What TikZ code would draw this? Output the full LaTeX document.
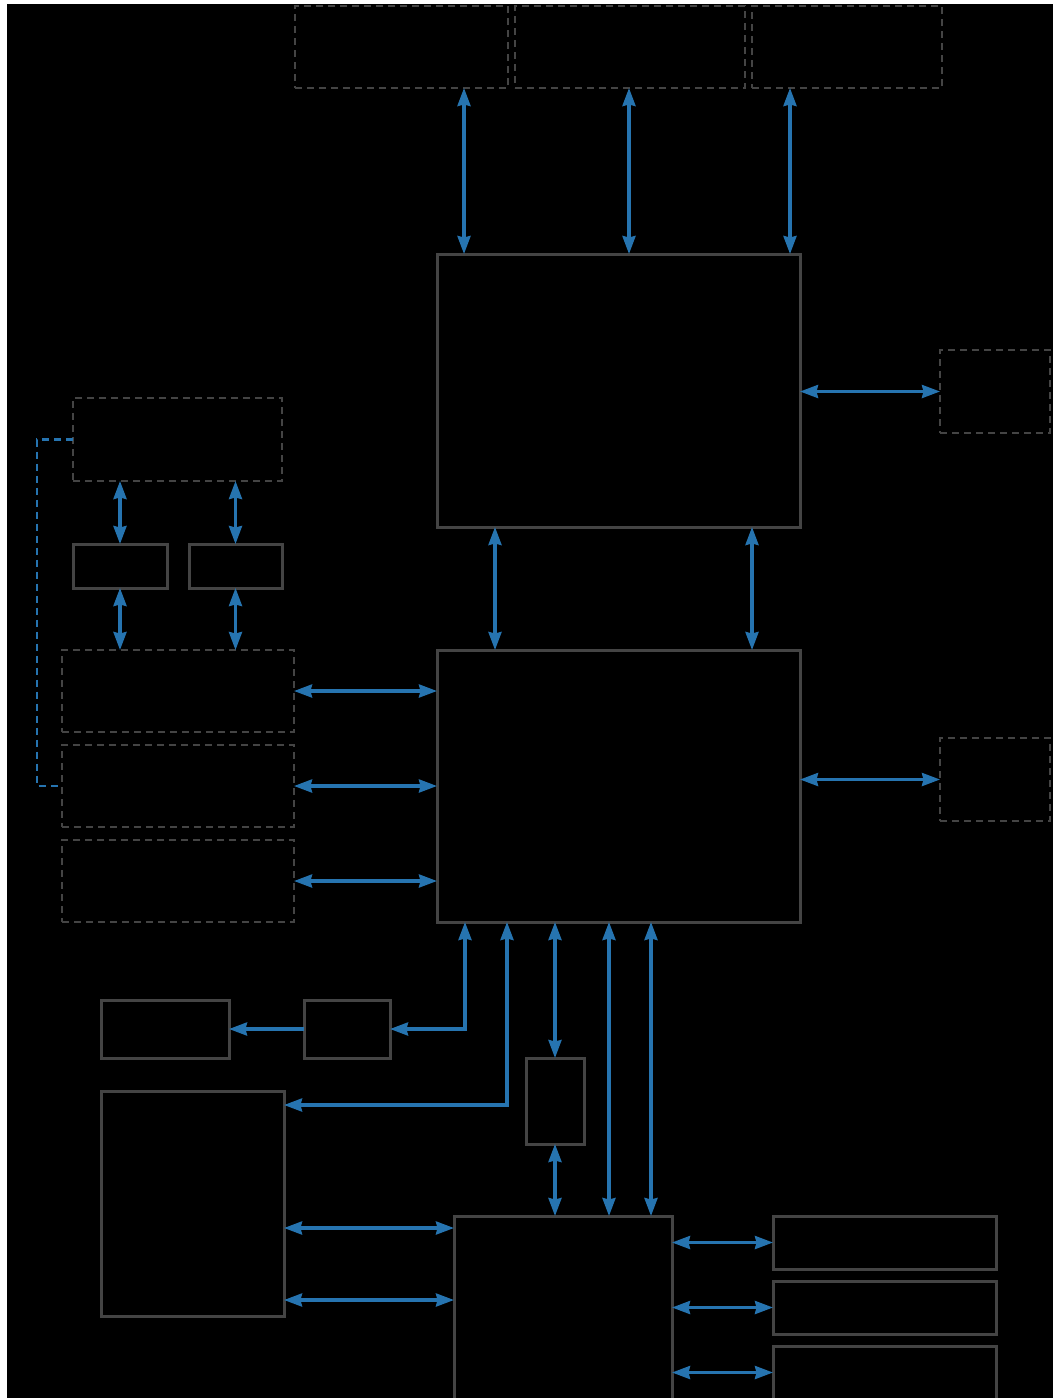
\documentclass[tikz,border=0pt]{standalone}
\usetikzlibrary{arrows.meta}
\definecolor{boxgray}{RGB}{68,68,68}
\definecolor{linkblue}{RGB}{38,116,176}
\begin{document}
\begin{tikzpicture}[x=1pt,y=-1pt,
  box/.style={draw=boxgray,line width=3pt,fill=black,anchor=north west,inner sep=0pt,outer sep=0pt},
  dbox/.style={box,line width=2.8pt,dash pattern=on 7pt off 5pt},
  dbl/.style={draw=linkblue,line width=3.2pt,{Stealth[length=18pt,width=13pt,inset=1.5pt]}-{Stealth[length=18pt,width=13pt,inset=1.5pt]}},
  one/.style={draw=linkblue,line width=3.2pt,-{Stealth[length=18pt,width=13pt,inset=1.5pt]}},
  bluedash/.style={draw=linkblue,line width=2.2pt,dash pattern=on 7pt off 5pt}]
\useasboundingbox (0,0) rectangle (1053,1398);
\clip (0,0) rectangle (1053,1398);
\fill[white] (0,0) rectangle (1053,1398);
\fill[black] (7,4) rectangle (1053,1398);
% top dashed boxes
\node[dbox,minimum width=213pt,minimum height=82pt] (D1) at (295,6) {};
\node[dbox,minimum width=230pt,minimum height=82pt] (D2) at (515,6) {};
\node[dbox,minimum width=190pt,minimum height=82pt] (D3) at (752,6) {};
% main boxes
\node[box,minimum width=363pt,minimum height=273pt] (A) at (437,254) {};
\node[box,minimum width=363pt,minimum height=272pt] (B) at (437,650) {};
% right dashed
\node[dbox,minimum width=110pt,minimum height=83pt] (R1) at (940,350) {};
\node[dbox,minimum width=110pt,minimum height=83pt] (R2) at (940,738) {};
% left
\node[dbox,minimum width=209pt,minimum height=83pt] (L0) at (73,398) {};
\node[box,minimum width=94pt,minimum height=44pt] (S1) at (73,544) {};
\node[box,minimum width=93pt,minimum height=44pt] (S2) at (189,544) {};
\node[dbox,minimum width=232pt,minimum height=82pt] (L1) at (62,650) {};
\node[dbox,minimum width=232pt,minimum height=82pt] (L2) at (62,745) {};
\node[dbox,minimum width=232pt,minimum height=82pt] (L3) at (62,840) {};
% bottom
\node[box,minimum width=86pt,minimum height=58pt] (M) at (304,1000) {};
\node[box,minimum width=128pt,minimum height=58pt] (N) at (101,1000) {};
\node[box,minimum width=183pt,minimum height=225pt] (P) at (101,1091) {};
\node[box,minimum width=58pt,minimum height=86pt] (Q) at (526,1058) {};
\node[box,minimum width=218pt,minimum height=220pt] (C) at (454,1216) {};
\node[box,minimum width=223pt,minimum height=53pt] (T1) at (773,1216) {};
\node[box,minimum width=223pt,minimum height=53pt] (T2) at (773,1281) {};
\node[box,minimum width=223pt,minimum height=53pt] (T3) at (773,1346) {};
% connectors top
\draw[dbl] (464,0 |- D1.south) -- (464,0 |- A.north);
\draw[dbl] (629,0 |- D2.south) -- (629,0 |- A.north);
\draw[dbl] (790,0 |- D3.south) -- (790,0 |- A.north);
\draw[dbl] (A.east |- R1.west) -- (R1.west);
\draw[dbl] (495,0 |- A.south) -- (495,0 |- B.north);
\draw[dbl] (752,0 |- A.south) -- (752,0 |- B.north);
\draw[dbl] (B.east |- R2.west) -- (R2.west);
% left
\draw[dbl] (S1.north) -- (S1.north |- L0.south);
\draw[dbl] (S2.north) -- (S2.north |- L0.south);
\draw[dbl] (S1.south) -- (S1.south |- L1.north);
\draw[dbl] (S2.south) -- (S2.south |- L1.north);
\draw[dbl] (L1.east) -- (L1.east -| B.west);
\draw[dbl] (L2.east) -- (L2.east -| B.west);
\draw[dbl] (L3.east) -- (L3.east -| B.west);
\draw[bluedash] (L0.west) -- ++(-36,0) |- (L2.west);
% bottom
\draw[dbl] (465,0 |- B.south) |- (M.east);
\draw[one] (M.west) -- (N.east);
\draw[dbl] (507,0 |- B.south) |- (P.east |- 0,1105);
\draw[dbl] (Q.north) -- (Q.north |- B.south);
\draw[dbl] (Q.south) -- (Q.south |- C.north);
\draw[dbl] (609,0 |- B.south) -- (609,0 |- C.north);
\draw[dbl] (651,0 |- B.south) -- (651,0 |- C.north);
\draw[dbl] (P.east |- 0,1228) -- (C.west |- 0,1228);
\draw[dbl] (P.east |- 0,1300) -- (C.west |- 0,1300);
\draw[dbl] (T1.west -| C.east) -- (T1.west);
\draw[dbl] (T2.west -| C.east) -- (T2.west);
\draw[dbl] (T3.west -| C.east) -- (T3.west);
\end{tikzpicture}
\end{document}
